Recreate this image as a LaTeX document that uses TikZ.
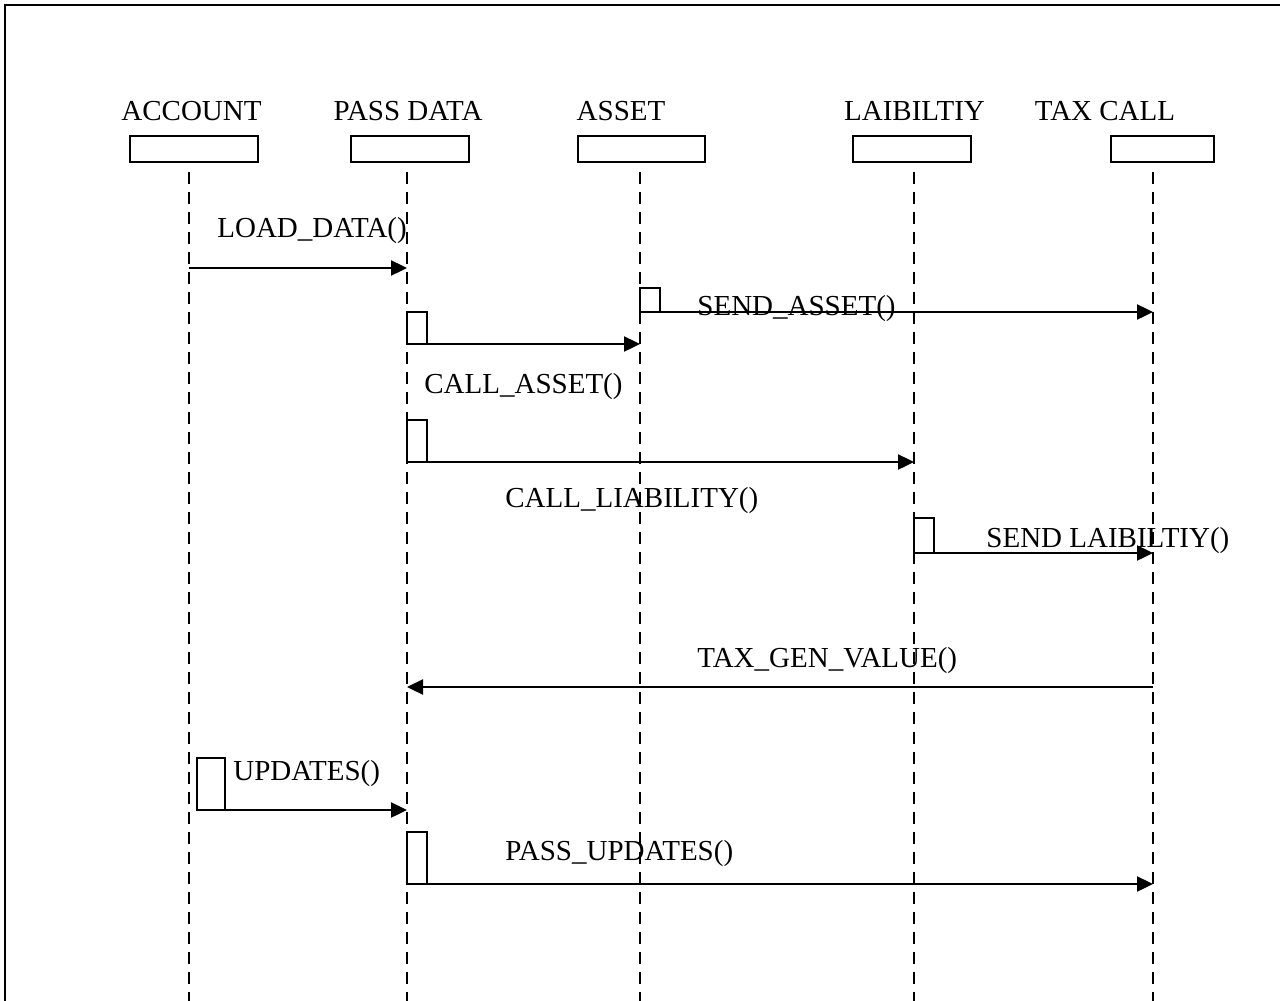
\documentclass[tikz,border=0pt]{standalone}
\usepackage{fontspec}
\setmainfont{Liberation Serif}
\usetikzlibrary{arrows.meta}
\begin{document}
\begin{tikzpicture}[x=0.5pt,y=-0.5pt,
  every node/.style={font=\fontsize{14.5}{17}\selectfont},
  lbl/.style={inner sep=0pt,anchor=base west},
  head/.style={inner sep=0pt,anchor=base},
  objbox/.style={draw,line width=1pt,minimum height=13pt,inner sep=0pt},
  lifeline/.style={line width=1.4pt,dash pattern=on 6pt off 4pt},
  msg/.style={line width=1.2pt,-{Triangle[length=8pt,width=7.5pt]}},
  actbox/.style={line width=1pt}]
\useasboundingbox (0,0) rectangle (1280,1001);
% frame
\draw[line width=1.2pt] (5,1001) -- (5,5) -- (1280,5);

% object names
\node[head] (tAcc) at (191.5,120) {ACCOUNT};
\node[head] (tPass) at (408,120) {PASS DATA};
\node[head] (tAsset) at (621,120) {ASSET};
\node[head] (tLiab) at (914.5,120) {LAIBILTIY};
\node[head] (tTax) at (1105,120) {TAX CALL};

% object boxes
\node[objbox,minimum width=64pt] (bAcc) at (194,149) {};
\node[objbox,minimum width=59pt] (bPass) at (410,149) {};
\node[objbox,minimum width=63.5pt] (bAsset) at (641.5,149) {};
\node[objbox,minimum width=59pt] (bLiab) at (912,149) {};
\node[objbox,minimum width=51.5pt] (bTax) at (1162.5,149) {};

% lifelines
\coordinate (lAccT) at (189,172);   \coordinate (lAccB) at (189,1001);
\coordinate (lPassT) at (407,172);  \coordinate (lPassB) at (407,1001);
\coordinate (lAssetT) at (640,172); \coordinate (lAssetB) at (640,1001);
\coordinate (lLiabT) at (914,172);  \coordinate (lLiabB) at (914,1001);
\coordinate (lTaxT) at (1153,172);  \coordinate (lTaxB) at (1153,1001);
\draw[lifeline] (lAccT) -- (lAccB);
\draw[lifeline] (lPassT) -- (lPassB);
\draw[lifeline] (lAssetT) -- (lAssetB);
\draw[lifeline] (lLiabT) -- (lLiabB);
\draw[lifeline] (lTaxT) -- (lTaxB);

% activation boxes
\draw[actbox] (407,312) rectangle (427,344);
\draw[actbox] (640,288) rectangle (660,312);
\draw[actbox] (407,420) rectangle (427,462);
\draw[actbox] (914,518) rectangle (934,553);
\draw[actbox] (197,758) rectangle (225,810);
\draw[actbox] (407,832) rectangle (427,884);

% message end points
\coordinate (m1a) at (189,268);  \coordinate (m1b) at (407,268);
\coordinate (m2a) at (407,344);  \coordinate (m2b) at (640,344);
\coordinate (m3a) at (640,312);  \coordinate (m3b) at (1153,312);
\coordinate (m4a) at (407,462);  \coordinate (m4b) at (914,462);
\coordinate (m5a) at (914,553);  \coordinate (m5b) at (1153,553);
\coordinate (m6a) at (1153,687); \coordinate (m6b) at (407,687);
\coordinate (m7a) at (213,810);  \coordinate (m7b) at (407,810);
\coordinate (m8a) at (407,884);  \coordinate (m8b) at (1153,884);

% messages
\draw[msg] (m1a) -- (m1b);
\draw[msg] (m2a) -- (m2b);
\draw[msg] (m3a) -- (m3b);
\draw[msg] (m4a) -- (m4b);
\draw[msg] (m5a) -- (m5b);
\draw[msg] (m6a) -- (m6b);
\draw[msg] (m7a) -- (m7b);
\draw[msg] (m8a) -- (m8b);

% message labels
\node[lbl] (n1) at (217,237) {LOAD\_DATA()};
\node[lbl] (n2) at (424,393) {CALL\_ASSET()};
\node[lbl] (n3) at (697,315) {SEND\_ASSET()};
\node[lbl] (n4) at (505,507) {CALL\_LIABILITY()};
\node[lbl] (n5) at (986,547) {SEND LAIBILTIY()};
\node[lbl] (n6) at (697,667) {TAX\_GEN\_VALUE()};
\node[lbl] (n7) at (233,780) {UPDATES()};
\node[lbl] (n8) at (505,860) {PASS\_UPDATES()};
\end{tikzpicture}
\end{document}
